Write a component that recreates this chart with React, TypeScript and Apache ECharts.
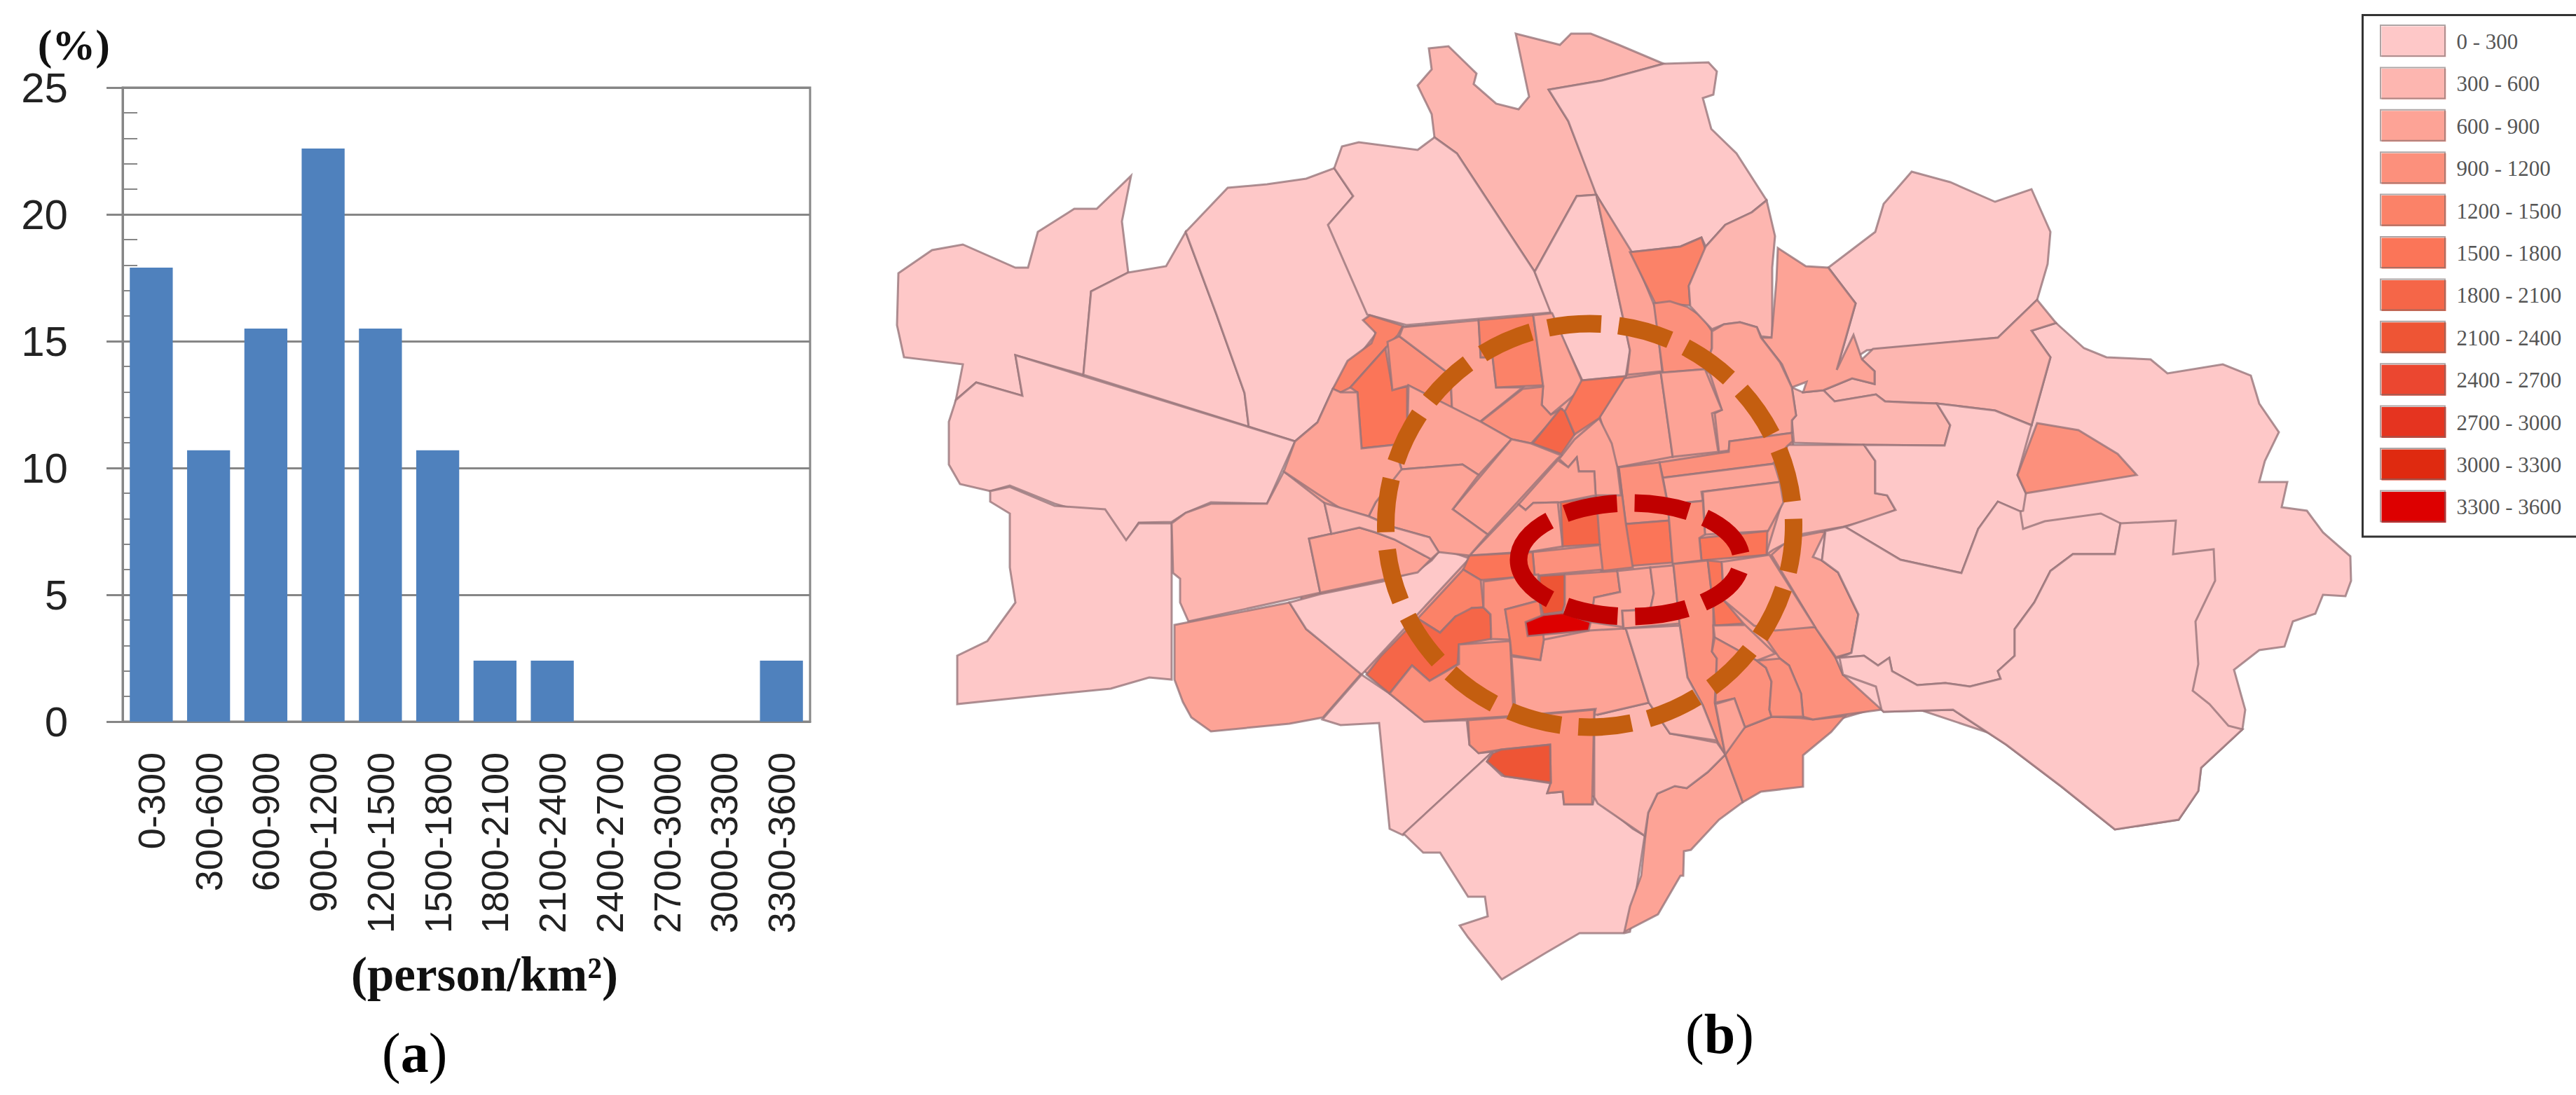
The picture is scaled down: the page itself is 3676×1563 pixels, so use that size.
import React, { useEffect, useRef } from "react";
import * as echarts from "echarts";

const densityClasses = ["0-300","300-600","600-900","900-1200","1200-1500","1500-1800","1800-2100","2100-2400","2400-2700","2700-3000","3000-3300","3300-3600"];
const sharePercent = [17.9,10.7,15.5,22.6,15.5,10.7,2.4,2.4,0,0,0,2.4];
const yTicks = [0,5,10,15,20,25];
const legendLower = [0,300,600,900,1200,1500,1800,2100,2400,2700,3000,3300];
const legendUpper = [300,600,900,1200,1500,1800,2100,2400,2700,3000,3300,3600];
const legendColors = ["#FEC8C8","#FDB6B0","#FDA396","#FC907C","#FB8268","#FB7558","#F56648","#EE5535","#EB4730","#E53420","#DF2A10","#DD0000"];

const districtDensity = [
150,750,
150,150,150,150,150,450,750,150,150,150,750,450,1050,1050,750,150,150,450,450,450,150,1050,150,150,
450,150,150,150,750,1350,1050,450,750,750,750,750,1050,750,750,1650,1050,1650,1050,1350,750,750,750,1950,1050,1650,1350,1950,1050,
750,1050,2250,1050,1350,2250,3450,1050,750,750,1050,1650,750,750,1050,750,1050,450,
1350,1650,1050,750,1350,750,1050,1950,1650,750,750,750,750,750,450,
];

// District boundaries of the map.
const districtOutlines = [
"2540,640 2900,620 3100,800 3000,1100 2700,1000 2620,900 2560,780",
"1950,470 2400,440 2530,500 2560,640 2540,800 2640,950 2680,1010 2460,1075 2280,1140 2130,1070 1983,990 1860,880 1840,700",
"1282,390 1330,357 1374,349 1449,382 1467,382 1481,331 1533,298 1565,298 1614,251 1601,316 1610,389 1557,416 1546,535 1449,507 1459,565 1393,546 1364,571 1374,520 1290,510 1280,464",
"1610,389 1664,380 1692,331 1736,449 1776,561 1782,609 1546,535 1557,416",
"1692,331 1752,268 1808,263 1864,255 1904,240 1931,280 1900,316 1955,449 1963,477 1902,555 1880,603 1848,630 1782,609 1776,561 1736,449",
"1449,507 1848,630 1808,719 1728,717 1692,732 1672,745 1625,746 1607,773 1577,740 1505,719 1441,693 1413,701 1370,691 1354,663 1354,602 1364,571 1393,546 1459,565",
"1413,701 1413,716 1441,733 1441,810 1449,860 1409,915 1366,936 1366,1005 1473,994 1585,983 1640,967 1672,970 1672,747 1625,747 1607,771 1577,727 1505,722 1441,695",
"1672,747 1692,732 1728,719 1808,719 1832,673 1890,718 1900,762 1868,769 1884,846 1696,887 1684,860 1684,826 1674,818",
"1676,892 1840,860 1864,898 1943,961 1888,1024 1840,1033 1728,1044 1700,1024 1688,1002 1676,970",
"1840,860 1884,848 1973,830 2023,815 2043,800 2057,783 2097,797 1943,963 1864,898",
"1943,963 1983,990 2033,1030 2093,1028 2097,1063 2110,1075 2130,1073 2002,1192 1983,1183 1968,1032 1913,1035 1887,1027",
"2130,1073 2122,1087 2143,1107 2213,1118 2208,1132 2230,1130 2232,1148 2273,1148 2275,1138 2330,1183 2347,1193 2326,1330 2318,1332 2254,1332 2206,1360 2143,1398 2095,1338 2083,1321 2123,1308 2119,1280 2095,1280 2055,1217 2031,1217 2003,1190",
"2348,1193 2352,1160 2365,1133 2390,1122 2407,1125 2437,1102 2462,1077 2487,1145 2453,1170 2413,1213 2403,1215 2402,1250 2398,1250 2366,1305 2318,1330 2326,1294 2342,1250",
"2280,1020 2353,1003 2383,1047 2450,1060 2462,1077 2437,1102 2407,1125 2390,1122 2365,1133 2352,1160 2347,1193 2280,1147 2275,1138 2275,1013",
"2462,1077 2477,1053 2490,1038 2528,1023 2570,1025 2587,1027 2633,1022 2613,1045 2573,1078 2573,1123 2513,1130 2487,1145",
"2620,940 2630,963 2677,980 2685,1013 2633,1020 2587,1027 2573,1023 2570,990 2553,950 2540,940 2507,893 2590,895",
"2528,792 2555,768 2605,758 2587,795 2600,800 2623,817 2652,877 2642,932 2620,938 2590,895",
"2934,461 2974,497 3006,510 3069,513 3093,533 3172,520 3212,536 3224,576 3252,617 3232,658 3224,688 3264,688 3256,724 3292,729 3315,760 3354,794 3355,829 3347,851 3315,849 3304,876 3272,887 3260,923 3224,928 3188,956 3204,1013 3200,1041 3141,1096 3137,1129 3109,1170 3018,1184 2942,1123 2863,1063 2787,1013 2688,1016 2685,1013 2630,963 2620,940 2642,932 2652,877 2623,817 2600,800 2605,758 2630,752 2705,728 2693,707 2676,704 2676,658 2660,635 2775,636 2783,607 2764,576 2847,586 2899,607 2926,510 2899,472",
"2609,382 2676,331 2688,291 2728,245 2783,260 2847,288 2899,270 2926,331 2922,377 2907,428 2851,482 2664,500 2621,528 2648,433",
"2907,428 2934,461 2899,472 2926,510 2899,607 2847,586 2764,576 2690,573 2677,563 2618,573 2602,557 2643,540 2675,548 2675,530 2657,513 2673,498 2851,482",
"2557,553 2573,560 2602,557 2618,573 2677,563 2690,573 2730,575 2764,576 2783,607 2775,636 2664,635 2560,632 2557,600 2563,593",
"2550,635 2660,635 2676,658 2676,704 2693,707 2705,728 2677,740 2630,752 2573,762 2530,785 2520,792 2543,717",
"2764,576 2847,586 2899,607 2879,678 2891,704 2887,729 2883,730 2851,716 2823,755 2799,818 2712,799 2633,752 2705,728 2693,707 2676,704 2676,658 2660,635 2775,636 2783,607",
"2907,604 2966,614 3022,648 3049,678 2958,693 2891,704 2879,678",
"2633,752 2712,799 2799,818 2823,755 2851,716 2883,730 2887,755 2918,744 2998,733 3026,747 3018,791 2958,791 2926,815 2903,860 2875,898 2875,936 2851,958 2855,969 2811,980 2776,975 2736,978 2700,958 2696,939 2680,950 2660,936 2625,939 2642,932 2652,877 2623,817 2600,800 2605,758",
"3026,747 3105,743 3101,791 3159,784 3161,829 3133,887 3137,948 3129,986 3153,1005 3180,1036 3200,1041 3141,1096 3137,1129 3109,1170 3018,1184 2942,1123 2863,1063 2787,1013 2688,1016 2685,1013 2677,980 2630,963 2625,939 2660,936 2680,950 2696,939 2700,958 2736,978 2776,975 2811,980 2855,969 2851,958 2875,936 2875,898 2903,860 2926,815 2958,791 3018,791",
"2039,69 2067,66 2107,105 2103,120 2135,148 2167,156 2182,138 2163,48 2226,64 2242,48 2270,48 2310,64 2374,91 2286,115 2210,128 2238,173 2274,265 2278,278 2250,280 2190,388 2079,219 2047,196 2043,163 2023,122 2043,99",
"1904,240 1915,209 1939,203 2023,214 2047,196 2079,219 2190,388 2214,446 2007,464 1951,449 1895,321 1931,280",
"2210,128 2286,115 2374,91 2438,89 2450,102 2445,135 2430,140 2442,184 2478,219 2521,286 2500,303 2462,321 2434,352 2428,339 2398,352 2326,360 2278,278 2238,173",
"2190,388 2250,280 2278,278 2314,444 2326,500 2320,537 2258,543 2214,449",
"2278,278 2330,362 2362,439 2372,530 2322,535 2326,500 2314,444",
"2326,360 2398,352 2428,339 2434,357 2410,408 2412,436 2362,433",
"2360,433 2383,430 2408,438 2430,453 2443,473 2443,497 2433,527 2373,532",
"2434,352 2462,321 2500,303 2521,286 2533,337 2529,382 2529,482 2513,480 2507,467 2483,460 2460,463 2443,470 2412,437 2410,408",
"2537,354 2577,380 2609,382 2648,433 2621,528 2645,478 2657,513 2675,530 2675,548 2643,540 2602,557 2573,560 2578,545 2557,553 2543,520 2513,482 2528,482 2535,400",
"2443,473 2460,463 2483,460 2507,467 2513,482 2540,517 2557,553 2563,593 2557,600 2557,618 2468,630 2467,643 2453,645 2447,590 2457,585 2440,533 2433,527 2443,497",
"2283,595 2317,540 2370,532 2387,652 2308,667 2293,630",
"2370,532 2433,527 2457,585 2443,590 2452,645 2387,652",
"2368,660 2452,647 2467,645 2468,630 2557,618 2558,630 2550,637 2530,662 2373,682",
"2373,682 2532,662 2540,688 2428,702 2430,715 2380,720",
"2430,702 2540,688 2545,717 2523,758 2433,763",
"2425,768 2522,758 2521,792 2428,800",
"2310,667 2368,660 2380,720 2382,743 2320,748",
"2320,748 2382,743 2387,803 2325,808",
"2380,720 2430,715 2433,763 2425,768 2428,800 2387,805",
"2310,670 2320,747 2330,810 2285,815 2278,743 2277,707",
"2282,597 2300,633 2308,667 2313,707 2277,707 2275,673 2253,673 2250,653 2238,667 2225,655 2247,627",
"2223,657 2238,667 2250,653 2253,673 2275,673 2277,707 2227,717 2188,718 2177,728 2167,720",
"2167,720 2177,728 2188,718 2223,717 2230,780 2187,787 2097,793",
"2227,717 2278,710 2283,777 2230,780",
"2187,788 2283,778 2287,813 2233,818 2190,822",
"2097,793 2187,788 2190,822 2113,828 2088,813",
"2088,813 2113,828 2117,867 2100,868 2097,875 2077,880 2055,903 2023,883",
"2023,883 2055,903 2077,880 2100,868 2117,867 2127,877 2128,912 2082,920 2080,948 2040,972 2015,950 1983,990 1950,963 1970,937",
"1983,990 2015,950 2040,972 2082,948 2082,920 2155,915 2160,1022 2032,1030",
"2203,913 2268,900 2320,897 2353,1003 2280,1020 2275,1020 2277,1012 2163,1022 2157,937 2198,942",
"2095,1028 2163,1023 2275,1013 2272,1148 2232,1148 2230,1130 2208,1132 2213,1117 2212,1063 2142,1070 2110,1075 2097,1063",
"2122,1087 2130,1075 2142,1070 2212,1063 2213,1117 2147,1108",
"2117,830 2195,820 2197,857 2148,870 2155,913 2128,912 2127,877 2117,867",
"2148,870 2197,857 2200,880 2203,913 2198,942 2157,935 2155,915",
"2197,822 2233,820 2233,863 2230,873 2202,877 2197,857",
"2177,888 2202,878 2230,875 2270,888 2267,900 2180,908",
"2233,820 2308,815 2312,845 2275,853 2272,885 2230,873 2233,863",
"2308,815 2355,810 2360,847 2355,870 2315,872 2316,895 2270,888 2275,853 2312,845",
"2355,810 2388,807 2397,890 2317,897 2315,872 2355,870 2360,847",
"2388,805 2437,800 2445,867 2445,910 2443,930 2450,940 2447,1003 2462,1077 2450,1057 2430,1007 2408,967 2397,893",
"2437,800 2457,802 2460,857 2488,890 2447,893 2445,867",
"2457,802 2525,792 2590,895 2533,900 2503,893 2460,857",
"2445,893 2490,892 2533,933 2507,943 2447,910",
"2447,910 2507,943 2520,953 2528,973 2525,1013 2528,1023 2490,1038 2475,997 2448,1003 2450,940 2443,930",
"2448,1005 2475,997 2490,1038 2462,1077",
"2507,943 2540,940 2553,950 2570,990 2573,1023 2528,1023 2525,1013 2528,973 2520,953",
"2320,897 2397,893 2408,967 2430,1007 2450,1057 2383,1047 2353,1003",
"1945,457 1955,450 2002,465 1995,478 1977,497 1927,553 1913,560 1902,555 1923,515 1957,490 1963,475",
"1977,497 1987,555 2008,552 2008,633 1943,640 1937,560 1927,553",
"1980,488 1997,480 2070,535 2072,582 2010,550 1987,557",
"2002,467 2110,457 2113,510 2130,510 2135,553 2173,553 2112,602 2072,582 2070,535 1997,480",
"2110,457 2188,450 2202,550 2135,553 2130,510 2113,510",
"2188,450 2215,447 2257,543 2263,550 2213,592 2200,578 2202,550",
"2113,602 2173,555 2202,552 2200,578 2213,592 2230,583 2185,633 2157,627",
"2227,583 2233,587 2247,620 2228,648 2187,633",
"2257,543 2320,537 2282,597 2247,620 2233,587",
"2010,550 2113,602 2157,627 2110,678 2087,663 2000,670 1995,653 2008,633",
"2157,627 2185,633 2228,650 2222,655 2123,763 2073,727",
"2000,670 2087,663 2110,678 2073,727 2123,763 2097,793 2053,788 2040,767 1990,753 1953,737 1963,717 1995,670",
"1848,630 1880,603 1902,555 1913,560 1937,560 1943,640 2008,633 1995,653 2000,670 1963,717 1953,737 1915,727 1880,705 1832,673",
"1868,769 1940,753 1963,760 1990,770 2042,798 2023,817 1884,846",
"1890,718 1953,737 1990,753 2040,767 2053,788 2042,798 1990,770 1963,760 1940,753 1900,762",
];

const parseOutline = (s: string) => s.split(" ").map((p) => { const [x, y] = p.split(",").map(Number); return [x, -y]; });
const rings = districtOutlines.map(parseOutline);
const districtName = (i: number) => "district-" + i;

const geoJson = {
  type: "FeatureCollection",
  features: rings.map((ring, i) => ({
    type: "Feature",
    properties: { name: districtName(i) },
    geometry: { type: "Polygon", coordinates: [[...ring, ring[0]]] },
  })),
};
const allX = rings.flat().map((p) => p[0]);
const allY = rings.flat().map((p) => -p[1]);
const mapBox = { left: Math.min(...allX), top: Math.min(...allY), right: Math.max(...allX), bottom: Math.max(...allY) };

export default function App() {
  const ref = useRef<HTMLDivElement>(null);
  useEffect(() => {
    document.body.style.margin = "0";
    echarts.registerMap("districts", geoJson as any);
    const chart = echarts.init(ref.current!, null, { renderer: "svg" });
    const axisGrey = "#868686";
    const sans = "Liberation Sans";
    const serif = "Liberation Serif";
    chart.setOption({
      animation: false,
      backgroundColor: "#fff",
      grid: { left: 175, top: 125, width: 981, height: 905, show: true, borderColor: axisGrey, borderWidth: 3, containLabel: false },
      xAxis: {
        type: "category",
        data: densityClasses,
        name: "(person/km²)",
        nameLocation: "middle",
        nameGap: 326,
        nameMoveOverlap: false,
        nameTextStyle: { fontFamily: serif, fontWeight: "bold", fontSize: 69, color: "#111", padding: [0, 0, 0, 52], lineHeight: 69 },
        axisLine: { lineStyle: { color: axisGrey, width: 3 } },
        axisTick: { length: 19, lineStyle: { color: axisGrey, width: 3 } },
        axisLabel: { rotate: 90, interval: 0, margin: 44, fontFamily: sans, fontSize: 54, color: "#222" },
      },
      yAxis: [
        {
          type: "value", min: yTicks[0], max: yTicks[yTicks.length - 1], interval: yTicks[1] - yTicks[0],
          name: "(%)",
          nameLocation: "end",
          nameGap: 30,
          nameTextStyle: { fontFamily: serif, fontWeight: "bold", fontSize: 62, color: "#111", align: "right", padding: [0, 18, 0, 0] },
          axisLine: { show: true, lineStyle: { color: axisGrey, width: 3 } },
          axisTick: { show: true, length: 23, lineStyle: { color: axisGrey, width: 3 } },
          splitLine: { show: true, lineStyle: { color: axisGrey, width: 3 } },
          axisLabel: { margin: 78, fontFamily: sans, fontSize: 60, color: "#222" },
        },
        {
          type: "value", min: yTicks[0], max: yTicks[yTicks.length - 1], interval: 1, position: "left",
          axisLine: { show: false },
          axisTick: { show: true, inside: true, length: 21, lineStyle: { color: axisGrey, width: 2 } },
          splitLine: { show: false },
          axisLabel: { show: false },
        },
      ],
      visualMap: {
        type: "piecewise",
        seriesIndex: 1,
        orient: "vertical",
        inverse: true,
        left: 3370,
        top: 20,
        align: "left",
        itemWidth: 92,
        itemHeight: 44,
        itemGap: 16.4,
        itemSymbol: "rect",
        textGap: 15,
        selectedMode: false,
        hoverLink: false,
        padding: [16, 24, 20, 27],
        borderColor: "#333",
        borderWidth: 3,
        backgroundColor: "#fff",
        textStyle: { fontFamily: serif, fontSize: 31, color: "#555" },
        pieces: legendLower.map((lo, i) => ({ min: lo, max: legendUpper[i], label: lo + " - " + legendUpper[i], color: legendColors[i] })),
      },
      series: [
        {
          type: "bar",
          data: sharePercent,
          barWidth: "75%",
          yAxisIndex: 0,
          itemStyle: { color: "#4F81BD" },
          silent: true,
          z: 3,
        },
        {
          type: "map",
          map: "districts",
          left: mapBox.left,
          top: mapBox.top,
          width: mapBox.right - mapBox.left,
          height: mapBox.bottom - mapBox.top,
          aspectScale: 1,
          roam: false,
          silent: true,
          selectedMode: false,
          label: { show: false },
          emphasis: { disabled: true },
          itemStyle: { borderColor: "rgba(150,115,120,0.78)", borderWidth: 3 },
          data: districtDensity.map((v, i) => ({ name: districtName(i), value: v })),
        },
      ],
      graphic: [
        ...legendLower.map((_, i) => ({
          type: "rect", z: 99, silent: true,
          shape: { x: 3397, y: 36 + 60.4 * i, width: 92, height: 44 },
          style: { fill: "none", stroke: "rgba(120,105,105,0.6)", lineWidth: 2 },
        })),
        {
          type: "ellipse", z: 100, silent: true,
          shape: { cx: 2268.5, cy: 750, rx: 291, ry: 288 },
          style: { fill: "none", stroke: "#C45E10", lineWidth: 25, lineDash: [76, 25], lineDashOffset: 9 },
        },
        {
          type: "ellipse", z: 101, silent: true,
          shape: { cx: 2326, cy: 799, rx: 159, ry: 81 },
          style: { fill: "none", stroke: "#C00000", lineWidth: 25, lineDash: [75, 25, 75, 25, 78, 25, 75, 25, 70, 25, 75, 25, 75, 25, 92, 0] },
        },
        {
          type: "text", z: 102, left: 545, top: 1463, silent: true,
          style: {
            text: "{p|(}{l|a}{p|)}",
            rich: {
              p: { fontFamily: serif, fontSize: 80, fill: "#000" },
              l: { fontFamily: serif, fontSize: 80, fontWeight: "bold", fill: "#000" },
            },
          },
        },
        {
          type: "text", z: 102, left: 2405, top: 1436, silent: true,
          style: {
            text: "{p|(}{l|b}{p|)}",
            rich: {
              p: { fontFamily: serif, fontSize: 80, fill: "#000" },
              l: { fontFamily: serif, fontSize: 80, fontWeight: "bold", fill: "#000" },
            },
          },
        },
      ],
    });
    return () => chart.dispose();
  }, []);
  return <div ref={ref} style={{ width: 3676, height: 1563 }} />;
}
